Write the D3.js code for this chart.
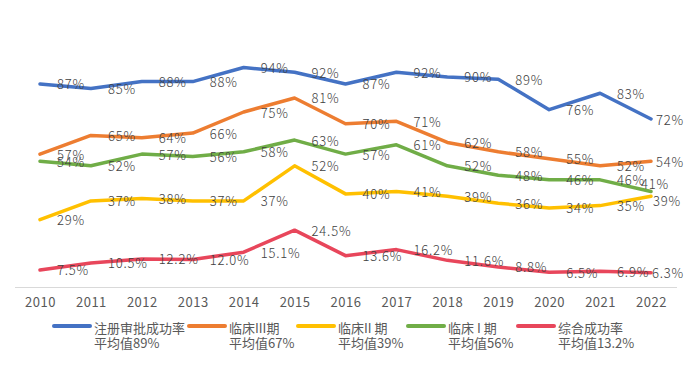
<!DOCTYPE html>
<html><head><meta charset="utf-8">
<script src="https://cdn.jsdelivr.net/npm/d3@7"></script>
<style>
html,body{margin:0;padding:0;background:#fff;}
svg{display:block;font-family:"Noto Sans CJK SC","Noto Sans",sans-serif;}
</style></head>
<body><svg id="c" width="692" height="366"></svg>
<script>
const years = ["2010","2011","2012","2013","2014","2015","2016","2017","2018","2019","2020","2021","2022"];
const approvalRate = [87,85,88,88,94,92,87,92,90,89,76,83,72];
const phase3 = [57,65,64,66,75,81,70,71,62,58,55,52,54];
const phase2 = [29,37,38,37,37,52,40,41,39,36,34,35,39];
const phase1 = [54,52,57,56,58,63,57,61,52,48,46,46,41];
const overall = [7.5,10.5,12.2,12.0,15.1,24.5,13.6,16.2,11.6,8.8,6.5,6.9,6.3];
const seriesNames = ["注册审批成功率","临床III期","临床II 期","临床 I 期","综合成功率"];
const avgLabels = ["平均值89%","平均值67%","平均值39%","平均值56%","平均值13.2%"];

const series = [
  {name:seriesNames[0], avg:avgLabels[0], values:approvalRate, color:"#4472C4", fmt:d=>d+"%"},
  {name:seriesNames[1], avg:avgLabels[1], values:phase3, color:"#ED7D31", fmt:d=>d+"%"},
  {name:seriesNames[2], avg:avgLabels[2], values:phase2, color:"#FFC000", fmt:d=>d+"%", lastNudge:[-3,4]},
  {name:seriesNames[3], avg:avgLabels[3], values:phase1, color:"#70AD47", fmt:d=>d+"%", lastNudge:[-15,-8]},
  {name:seriesNames[4], avg:avgLabels[4], values:overall, color:"#E8465B", fmt:d=>d.toFixed(1)+"%"}
];

const svg = d3.select("#c");
const x = d3.scalePoint().domain(years).range([40,651]);
const y = d3.scaleLinear().domain([0,100]).range([287.5,53.5]);

// baseline
svg.append("line").attr("x1",15).attr("x2",677).attr("y1",287.5).attr("y2",287.5)
  .attr("stroke","#d9d9d9").attr("stroke-width",1);

// x axis labels
const xAxis = d3.axisBottom(x).tickSize(0).tickPadding(0);
const gx = svg.append("g").attr("transform","translate(0,298)").call(xAxis);
gx.select(".domain").remove();
gx.selectAll("text").attr("fill","#595959").attr("font-size","13px")
  .attr("letter-spacing","0.5px")
  .attr("font-family","'Noto Sans CJK SC',sans-serif").attr("dy","0.71em");

const line = d3.line().x((d,i)=>x(years[i])).y(d=>y(d));
series.forEach(s=>{
  svg.append("path").datum(s.values).attr("d",line).attr("fill","none")
    .attr("stroke",s.color).attr("stroke-width",3.5).attr("stroke-linejoin","round").attr("stroke-linecap","round");
});
series.forEach(s=>{
  const g = svg.append("g");
  s.values.forEach((v,i)=>{
    const t = g.append("text").text(s.fmt(v)).attr("font-size","13px").attr("font-weight",300)
      .attr("letter-spacing","0.8px")
      .attr("fill","#404040").attr("dominant-baseline","central")
      .attr("x",x(years[i])+17).attr("y",y(v));
    if(i===s.values.length-1){
      const w = t.node().getComputedTextLength();
      let tx = Math.min(x(years[i])+17, 684-w);
      let ty = y(v);
      if(s.lastNudge){tx += s.lastNudge[0]; ty += s.lastNudge[1];}
      t.attr("x",tx).attr("y",ty);
    }
  });
});

// legend
const legendX = [54,189,298,408,518];
series.forEach((s,i)=>{
  const g = svg.append("g").attr("transform",`translate(${legendX[i]},0)`);
  g.append("line").attr("x1",0).attr("x2",36).attr("y1",326).attr("y2",326)
    .attr("stroke",s.color).attr("stroke-width",4).attr("stroke-linecap","round");
  g.append("text").attr("x",40).attr("y",327).attr("dominant-baseline","central")
    .attr("font-size","13px").attr("fill","#595959").text(s.name);
  g.append("text").attr("x",40).attr("y",342).attr("dominant-baseline","central")
    .attr("font-size","13px").attr("fill","#595959").text(s.avg);
});
</script></body></html>
